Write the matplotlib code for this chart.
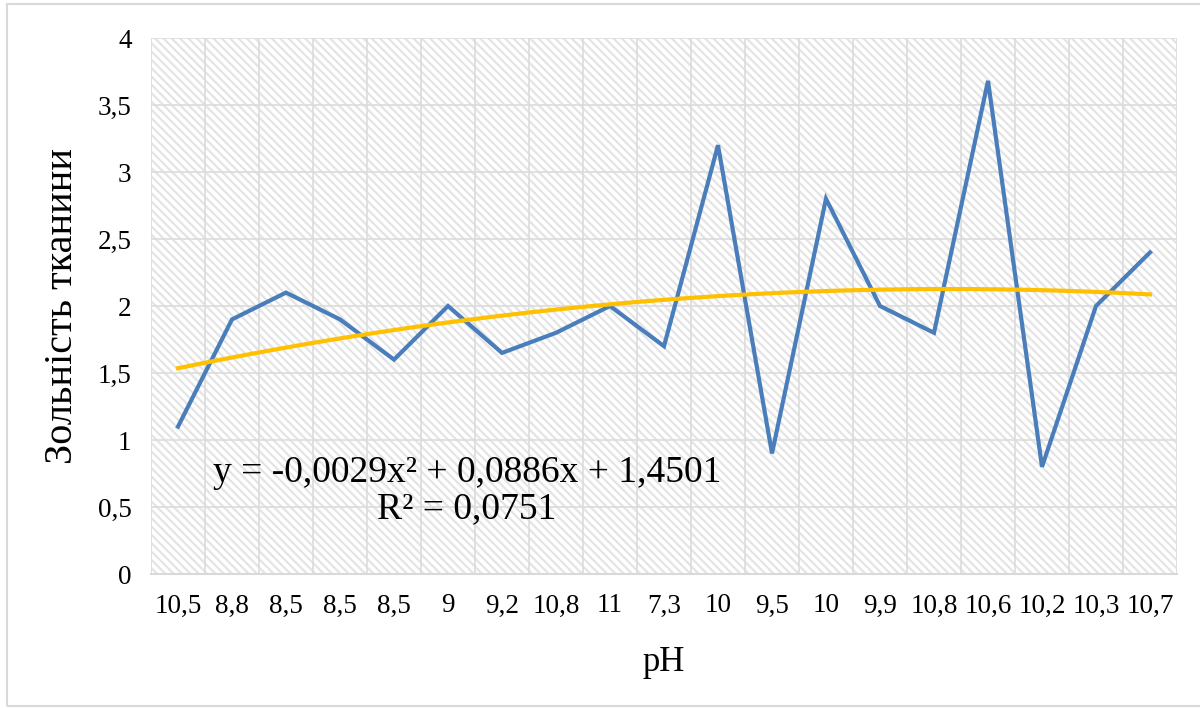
import numpy as np
import matplotlib.pyplot as plt
from matplotlib.patches import Rectangle

plt.rcParams['font.family'] = ['Liberation Serif', 'DejaVu Serif']
plt.rcParams['hatch.linewidth'] = 1.6
plt.rcParams['hatch.color'] = '#e4e4e4'

ph_labels = ['10,5', '8,8', '8,5', '8,5', '8,5', '9', '9,2', '10,8', '11', '7,3',
             '10', '9,5', '10', '9,9', '10,8', '10,6', '10,2', '10,3', '10,7']
ash = [1.1, 1.9, 2.1, 1.9, 1.6, 2.0, 1.65, 1.8, 2.0, 1.7,
       3.2, 0.9, 2.8, 2.0, 1.8, 3.68, 0.8, 2.0, 2.4]
# poly trendline from the chart label (x = 1..19)
trend_coef = [-0.0029, 0.0886, 1.4501]
trend_text = 'y = -0,0029x² + 0,0886x + 1,4501\nR² = 0,0751'

fig = plt.figure(figsize=(12, 7.08), dpi=100)
fig.patches.append(Rectangle((7 / 1200, 2 / 708), 1.0, 702 / 708, transform=fig.transFigure,
                             fill=False, edgecolor='#d9d9d9', lw=1.5))
ax = fig.add_axes([151 / 1200, 1 - 574 / 708, 1026 / 1200, 536 / 708])

n = len(ash)
x = np.arange(n)

# hatched plot area background
ax.add_patch(Rectangle((0, 0), 1, 1, transform=ax.transAxes, facecolor='white',
                       edgecolor='#e4e4e4', hatch='\\\\\\\\', lw=0, zorder=0))

for b in np.arange(-0.5, n, 1.0):
    ax.axvline(b, color='#dcdcdc', lw=1.2, zorder=1)
for yv in np.arange(0.5, 4.01, 0.5):
    ax.axhline(yv, color='#dcdcdc', lw=1.2, zorder=1)

ax.plot(x, ash, color='#4a7ebb', lw=3.0, solid_joinstyle='miter', zorder=3)
xs = np.linspace(1, n, 200)
ax.plot(xs - 1, np.polyval(trend_coef, xs), color='#ffc000', lw=3.0, zorder=4)

ax.set_xlim(-0.5, n - 0.5)
ax.set_ylim(0, 4)
ax.set_xticks(x)
ax.set_xticklabels(ph_labels)
ax.set_yticks(np.arange(0, 4.01, 0.5))
ax.set_yticklabels(['0', '0,5', '1', '1,5', '2', '2,5', '3', '3,5', '4'])
ax.tick_params(length=0, labelsize=19.5, pad=14)
ax.tick_params(axis='y', pad=14)
for s in ['top', 'right', 'left']:
    ax.spines[s].set_visible(False)
ax.spines['bottom'].set_color('#d9d9d9')
ax.spines['bottom'].set_linewidth(1.5)

ax.set_xlabel('pH', fontsize=25, labelpad=20)
ax.set_ylabel('Зольність тканини', fontsize=29, labelpad=12)

# pixel coords, origin bottom-left
ax.text(467, 708 - 491, trend_text, transform=None, fontsize=27, ha='center', va='center',
        linespacing=1.05, zorder=5)

fig.savefig('out.png', dpi=100)
